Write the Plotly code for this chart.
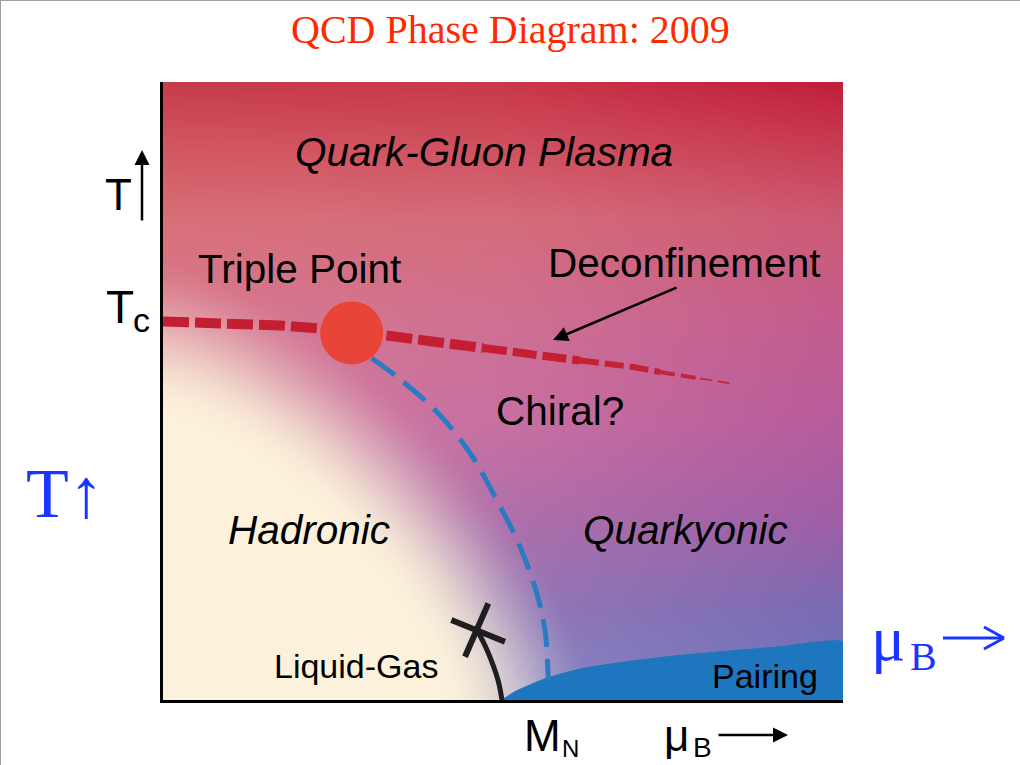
import numpy as np
import zlib, struct, base64
import plotly.graph_objects as go

# ---------------- data (normalized mu_B, T units of the diagram) ----------------
deconf_mu = [0.0, 0.0838, 0.1721, 0.2765, 0.3779, 0.4706, 0.5691, 0.6132, 0.6912, 0.7309, 0.7897, 0.8412]
deconf_T = [0.6125, 0.6100, 0.6060, 0.5971, 0.5825, 0.5696, 0.5558, 0.5493, 0.5388, 0.5307, 0.5202, 0.5113]

chiral_mu = [0.3069, 0.3437, 0.4025, 0.4515, 0.4907, 0.5250, 0.5496, 0.5618, 0.5666]
chiral_T = [0.5529, 0.5231, 0.4665, 0.3997, 0.3236, 0.2481, 0.1727, 0.1133, 0.0324]

liquid_gas_mu = [0.4618, 0.4765, 0.4926, 0.4985]
liquid_gas_T = [0.1133, 0.0809, 0.0324, 0.0]

cross_a_mu = [0.4240, 0.5029]
cross_a_T = [0.1294, 0.0944]
cross_b_mu = [0.4784, 0.4441]
cross_b_T = [0.1564, 0.0701]

pairing_mu = [0.4985, 0.5176, 0.5647, 0.6132, 0.6721, 0.7456, 0.8191, 0.9074, 1.0, 1.0]
pairing_T = [0.0, 0.0135, 0.0356, 0.0500, 0.0605, 0.0705, 0.0780, 0.0860, 0.0935, 0.0]

triple_mu = [0.2775]
triple_T = [0.5939]

# ---------------- styles ----------------
W_FIG, H_FIG = 1020, 765
PANEL_L, PANEL_R, PANEL_T, PANEL_B = 163, 843, 82, 700
SANS = "Liberation Sans, Arial, Helvetica, sans-serif"
SERIF = "Liberation Serif, Times New Roman, serif"
BLUE_TXT = "#1A35FF"
RED_TITLE = "#FF2800"

# deconfinement segments: (start idx, end idx, width, dash, opacity)
deconf_segments = [
    (0, 5, 10, "26px,6px", 1.0),
    (5, 7, 8, "24px,6px", 1.0),
    (7, 9, 6, "19px,6px", 0.95),
    (9, 10, 4, "15px,6px", 0.9),
    (10, 11, 2, "12px,6px", 0.8),
]

# ---------------- background gradient image ----------------
def hex2rgb(h):
    return [int(h[i:i + 2], 16) for i in (1, 3, 5)]

row_v = [1.0, 0.9, 0.78, 0.62, 0.45, 0.3, 0.15, 0.0]
row_cols = [
    ["#C63C4A", "#C8384A", "#C21E3C"],
    ["#D25660", "#D0505E", "#C83C52"],
    ["#D87078", "#D46C7A", "#CC5A74"],
    ["#D87A90", "#D07092", "#C45C8E"],
    ["#D080A2", "#C870A2", "#B85C9C"],
    ["#C888B0", "#B070AA", "#A05EA6"],
    ["#B8A0C8", "#9478B8", "#7A6AB2"],
    ["#A8A8D0", "#8A88C8", "#6878BC"],
]
GW, GH = 340, 309
gu = (np.arange(GW) + 0.5) / GW
gv = 1 - (np.arange(GH) + 0.5) / GH
grid = np.array([[hex2rgb(c) for c in r] for r in row_cols], float)[::-1]
rv = np.array(row_v)[::-1]
colv = np.empty((GH, 3, 3))
for c in range(3):
    for ch in range(3):
        colv[:, c, ch] = np.interp(gv, rv, grid[:, c, ch])
img = np.empty((GH, GW, 3))
cu = np.array([0.0, 0.5, 1.0])
for i in range(GH):
    for ch in range(3):
        img[i, :, ch] = np.interp(gu, cu, colv[i, :, ch])
U, V = np.meshgrid(gu, gv)
p = 1.45
d = ((U / 0.53) ** p + (V / 0.59) ** p) ** (1 / p)
t = np.clip((1.22 - d) / 0.44, 0, 1)
w = t * t * (3 - 2 * t)
cream = np.array([252, 241, 218], float)
img = img * (1 - w[..., None]) + cream * w[..., None]
img = np.clip(img, 0, 255).astype(np.uint8)


def png_bytes(arr):
    h, w_, _ = arr.shape
    raw = b"".join(b"\x00" + arr[i].tobytes() for i in range(h))

    def chunk(tag, data):
        c = struct.pack(">I", len(data)) + tag + data
        return c + struct.pack(">I", zlib.crc32(tag + data) & 0xFFFFFFFF)

    return (b"\x89PNG\r\n\x1a\n" + chunk(b"IHDR", struct.pack(">IIBBBBB", w_, h, 8, 2, 0, 0, 0))
            + chunk(b"IDAT", zlib.compress(raw, 9)) + chunk(b"IEND", b""))


bg_src = "data:image/png;base64," + base64.b64encode(png_bytes(img)).decode()

# ---------------- figure ----------------
fig = go.Figure()

# pairing region
fig.add_trace(go.Scatter(x=pairing_mu, y=pairing_T, mode="lines", fill="toself",
                         fillcolor="#1E76BE", line=dict(color="#1E76BE", width=1, shape="spline", smoothing=0.5),
                         hoverinfo="skip", showlegend=False))

# chiral (blue dashed)
fig.add_trace(go.Scatter(x=chiral_mu, y=chiral_T, mode="lines",
                         line=dict(color="#2B7BC3", width=5, dash="28px,12px", shape="spline"),
                         hoverinfo="skip", showlegend=False))

# deconfinement (red dashed, tapering)
for s, e, wdt, dash, op in deconf_segments:
    fig.add_trace(go.Scatter(x=deconf_mu[s:e + 1], y=deconf_T[s:e + 1], mode="lines", opacity=op,
                             line=dict(color="#C41E32", width=wdt, dash=dash),
                             hoverinfo="skip", showlegend=False))

# liquid-gas line and cross
fig.add_trace(go.Scatter(x=liquid_gas_mu, y=liquid_gas_T, mode="lines",
                         line=dict(color="#1E1E1E", width=5, shape="spline"),
                         hoverinfo="skip", showlegend=False))
for cx, cy in ((cross_a_mu, cross_a_T), (cross_b_mu, cross_b_T)):
    fig.add_trace(go.Scatter(x=cx, y=cy, mode="lines", line=dict(color="#1E1E1E", width=6),
                             hoverinfo="skip", showlegend=False))

# triple point
fig.add_trace(go.Scatter(x=triple_mu, y=triple_T, mode="markers",
                         marker=dict(size=63, color="#E84438", line=dict(width=0)),
                         hoverinfo="skip", showlegend=False))


def P(xpx, ypx):
    return xpx / W_FIG, 1 - ypx / H_FIG


annotations = []


def label(text, xpx, ypx, size, family=SANS, color="black"):
    x, y = P(xpx, ypx)
    annotations.append(dict(text=text, x=x, y=y, xref="paper", yref="paper", showarrow=False,
                            xanchor="center", yanchor="middle",
                            font=dict(family=family, size=size, color=color)))


def arrow(head, tail, width=2.5, size=1.2):
    x, y = P(*head)
    annotations.append(dict(text="", x=x, y=y, xref="paper", yref="paper", showarrow=True,
                            ax=tail[0] - head[0], ay=tail[1] - head[1],
                            arrowhead=2, arrowsize=size, arrowwidth=width, arrowcolor="black",
                            standoff=0, startstandoff=0))


label("QCD Phase Diagram: 2009", 510, 29.5, 40, SERIF, RED_TITLE)
label("<i>Quark-Gluon Plasma</i>", 484, 152.5, 40.5)
label("Triple Point", 299, 268.5, 40.5)
label("Deconfinement", 684, 262.5, 40.5)
label("Chiral?", 560, 410.5, 40.5)
label("<i>Hadronic</i>", 309, 530, 40.5)
label("<i>Quarkyonic</i>", 685, 530, 40.5)
label("Liquid-Gas", 356, 666, 34)
label("Pairing", 765, 675.5, 34)
label("T", 118, 194, 44)
label("T", 120, 307, 46)
label("c", 141, 320, 34)
label("M", 542, 735, 44)
label("N", 570, 748, 24)
label("\u03bc", 676, 735, 44)
label("B", 702, 747, 28)
label("T\u2191", 65, 493, 70, SERIF, BLUE_TXT)
label("\u03bc", 888, 638, 64, SERIF, BLUE_TXT)
label("B", 923, 656, 40, SERIF, BLUE_TXT)

arrow((553, 340), (678, 287))
arrow((142, 150), (142, 222))
arrow((788, 735), (717, 735))


def pline(x0, y0, x1, y1, color, width):
    a, b = P(x0, y0)
    c, d_ = P(x1, y1)
    return dict(type="line", xref="paper", yref="paper", x0=a, y0=b, x1=c, y1=d_,
                line=dict(color=color, width=width))


shapes = [
    dict(type="line", xref="paper", yref="paper", x0=0, x1=1, y0=1, y1=1,
         line=dict(color="#A0A0A0", width=2)),
    dict(type="line", xref="paper", yref="paper", x0=0, x1=0, y0=0, y1=1,
         line=dict(color="#A0A0A0", width=2)),
    # blue long arrow after mu_B
    pline(943, 638, 1003, 638, BLUE_TXT, 3),
    pline(1004, 638, 984, 627, BLUE_TXT, 3),
    pline(1004, 638, 984, 649, BLUE_TXT, 3),
]

fig.add_layout_image(dict(source=bg_src, xref="x", yref="y", x=0, y=1, sizex=1, sizey=1,
                          xanchor="left", yanchor="top", sizing="stretch", layer="below"))

axis_common = dict(range=[0, 1], showgrid=False, zeroline=False, showticklabels=False, ticks="",
                   showline=True, linecolor="black", linewidth=3, fixedrange=True)

fig.update_layout(
    width=W_FIG, height=H_FIG, autosize=False,
    margin=dict(l=0, r=0, t=0, b=0),
    paper_bgcolor="white", plot_bgcolor="white",
    xaxis=dict(domain=[PANEL_L / W_FIG, PANEL_R / W_FIG], **axis_common),
    yaxis=dict(domain=[1 - PANEL_B / H_FIG, 1 - PANEL_T / H_FIG], **axis_common),
    annotations=annotations,
    shapes=shapes,
    showlegend=False,
)

fig.write_html("out.html", config={"displayModeBar": False},
               post_script="document.body.style.margin='0px';document.body.style.overflow='hidden';")
